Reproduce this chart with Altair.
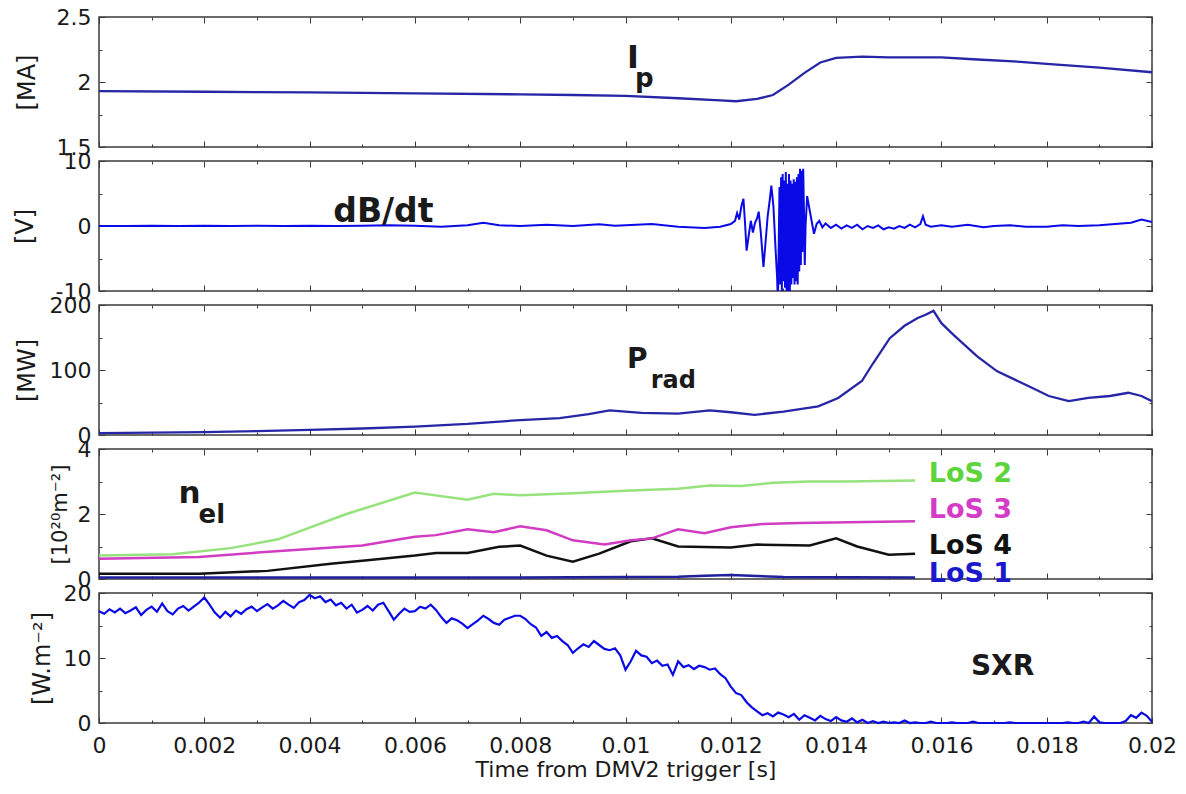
import altair as alt
import pandas as pd

# ---------------- data ----------------
TIME_TICKS = [0, 0.002, 0.004, 0.006, 0.008, 0.01, 0.012, 0.014, 0.016, 0.018, 0.02]
TIME_MINOR = [0.001, 0.003, 0.005, 0.007, 0.009, 0.011, 0.013, 0.015, 0.017, 0.019]

# plasma current [MA]
ip_t = [0, 0.002, 0.004, 0.006, 0.008, 0.009, 0.010, 0.011, 0.0118, 0.0121, 0.0125, 0.0128,
        0.0131, 0.0134, 0.0137, 0.0140, 0.0145, 0.0150, 0.0160, 0.0166, 0.0175, 0.0180, 0.0190, 0.0200]
ip_v = [1.93, 1.925, 1.92, 1.912, 1.905, 1.90, 1.893, 1.875, 1.858, 1.852, 1.87, 1.90,
        1.98, 2.07, 2.15, 2.185, 2.195, 2.19, 2.19, 2.175, 2.155, 2.14, 2.11, 2.075]

# dB/dt [V] : quiet phase, burst onset, dense burst, tail
dbdt_pre_t = [0, 0.0005, 0.001, 0.0015, 0.002, 0.0025, 0.003, 0.0035, 0.004, 0.0045,
              0.005, 0.0055, 0.006, 0.0065, 0.007, 0.0073, 0.0076, 0.008, 0.0085, 0.009,
              0.0095, 0.0098, 0.010, 0.0105, 0.011, 0.0115, 0.0118, 0.0120]
dbdt_pre_v = [0, 0, 0.05, 0, 0.05, 0, 0.05, 0, 0.05, 0,
              0.05, 0.1, 0.05, -0.1, 0.1, 0.5, 0.1, 0, 0.2, 0,
              0.25, 0.05, 0.1, 0.3, -0.1, -0.3, -0.1, 0.3]
dbdt_on_t = [0.01208, 0.01212, 0.01216, 0.0122, 0.01224, 0.01227, 0.0123, 0.01234, 0.01238, 0.01242,
             0.01246, 0.0125, 0.01253, 0.01257, 0.01262, 0.01266, 0.0127, 0.01274, 0.01277, 0.01281,
             0.01285]
dbdt_on_v = [0.8, 2.0, 1.0, 3.0, 4.2, 0.5, -3.8, -1.5, 0.8, -1.0,
             0.5, 1.2, 2.2, -1.0, -6.3, -2.5, 1.5, 4.0, 6.2, 3.0,
             -3.5]
dbdt_burst_t = [0.01288, 0.012895, 0.01291, 0.012925, 0.01294, 0.012955, 0.01297, 0.012985, 0.013, 0.013015,
                0.01303, 0.013045, 0.01306, 0.013075, 0.01309, 0.013105, 0.01312, 0.013135, 0.01315, 0.013165,
                0.01318, 0.013195, 0.01321, 0.013225, 0.01324, 0.013255, 0.01327, 0.013285, 0.0133, 0.013315,
                0.01333, 0.013345, 0.01336, 0.013375, 0.01339, 0.013405, 0.01342, 0.01345]
dbdt_burst_v = [-8.0, -12, -3, 6, -9, 7.5, -10, 8, -8.5, 7,
                -9.5, 8.3, -11, 6.5, -12, 8.0, -12, 7.0, -9, 6.5,
                -8, 7.2, -9, 6.8, -8.5, 7.5, -9, 8.0, -7, 8.8,
                -6, 8.5, -4, 8.8, 2, -6, 0, 4.6]
dbdt_tail_t = [0.01353, 0.01358, 0.01363, 0.01368, 0.01374, 0.0138, 0.0139, 0.014, 0.0141, 0.0142,
               0.0143, 0.0144, 0.0145, 0.0146, 0.0147, 0.0148, 0.0149, 0.015, 0.0151, 0.0152,
               0.0153, 0.0154, 0.0155, 0.0156, 0.01565, 0.0157, 0.0158, 0.016, 0.0162, 0.0165,
               0.0168, 0.017, 0.0173, 0.0176, 0.018, 0.0183, 0.0186, 0.019, 0.0193, 0.0196,
               0.0198, 0.02]
dbdt_tail_v = [1.0, -1.2, 0.3, 0.8, -0.2, 0.4, -0.3, 0.2, -0.4, 0.1,
               -0.3, 0.2, -0.5, 0.0, -0.3, 0.1, -0.5, -0.2, -0.4, 0.0,
               -0.3, 0.2, -0.2, 0.3, 1.5, 0.2, -0.1, 0.1, -0.1, 0.2,
               -0.2, 0.0, 0.1, -0.1, -0.1, 0.1, 0.0, 0.1, 0.3, 0.5,
               1.0, 0.6]
dbdt_t = dbdt_pre_t + dbdt_on_t + dbdt_burst_t + dbdt_tail_t
dbdt_v = dbdt_pre_v + dbdt_on_v + dbdt_burst_v + dbdt_tail_v

# radiated power [MW]
prad_t = [0, 0.001, 0.002, 0.003, 0.004, 0.005, 0.006, 0.007, 0.008, 0.00875, 0.0093, 0.0097,
          0.0103, 0.0110, 0.0116, 0.0120, 0.01245, 0.0130, 0.01366, 0.01404, 0.01449, 0.0147,
          0.01502, 0.0153, 0.01555, 0.0157, 0.01585, 0.0160, 0.01623, 0.01668, 0.01706, 0.01766,
          0.01804, 0.01842, 0.01879, 0.0192, 0.01955, 0.0198, 0.0200]
prad_v = [3, 3.5, 4.5, 6, 8, 10, 13, 17, 23, 26, 32, 38,
          34, 33, 38, 35, 31, 36, 44, 57, 83, 110,
          149, 168, 180, 185, 191, 172, 154, 121, 98, 75,
          60, 52, 57, 60, 65, 60, 52]

# line-integrated density [1e20 m^-2]
los2_t = [0, 0.0014, 0.0025, 0.0034, 0.0047, 0.006, 0.0065, 0.007, 0.0075, 0.008,
          0.009, 0.0101, 0.011, 0.0116, 0.0122, 0.0128, 0.0135, 0.0142, 0.0155]
los2_v = [0.72, 0.76, 0.95, 1.22, 2.0, 2.66, 2.55, 2.44, 2.62, 2.58,
          2.64, 2.72, 2.78, 2.88, 2.86, 2.96, 3.0, 3.0, 3.03]
los3_t = [0, 0.0019, 0.0035, 0.005, 0.006, 0.0064, 0.007, 0.0075, 0.008, 0.0085,
          0.009, 0.0096, 0.0101, 0.0105, 0.011, 0.0115, 0.012, 0.0126, 0.0133, 0.0155]
los3_v = [0.62, 0.68, 0.87, 1.03, 1.3, 1.35, 1.53, 1.44, 1.62, 1.5,
          1.19, 1.06, 1.19, 1.25, 1.53, 1.41, 1.59, 1.69, 1.72, 1.78]
los4_t = [0, 0.0019, 0.0032, 0.0044, 0.005, 0.006, 0.0064, 0.007, 0.0076, 0.008,
          0.0085, 0.009, 0.0095, 0.0101, 0.0105, 0.011, 0.012, 0.0125, 0.0135, 0.014,
          0.0144, 0.015, 0.0155]
los4_v = [0.16, 0.16, 0.25, 0.47, 0.56, 0.72, 0.8, 0.8, 0.99, 1.03,
          0.72, 0.53, 0.78, 1.16, 1.25, 1.0, 0.97, 1.06, 1.03, 1.25,
          1.0, 0.75, 0.78]
los1_t = [0, 0.004, 0.008, 0.011, 0.0115, 0.012, 0.0125, 0.013, 0.0155]
los1_v = [0.05, 0.05, 0.05, 0.07, 0.1, 0.12, 0.09, 0.06, 0.05]
LOS_NAMES = ["LoS 2", "LoS 3", "LoS 4", "LoS 1"]

# soft X-ray [W m^-2], sampled every 0.1 ms
sxr_v = [17.2, 16.8, 17.5, 17.0, 17.6, 16.9, 17.3, 17.8, 16.6, 17.4,
         17.9, 17.1, 18.4, 17.2, 16.7, 17.6, 18.0, 17.3, 17.9, 18.5,
         19.3, 18.2, 17.0, 16.2, 17.1, 16.4, 17.3, 16.8, 17.5, 17.9,
         17.2, 17.8, 18.3, 17.6, 18.1, 18.8, 18.2, 17.7, 18.6, 18.9,
         19.7, 19.2, 19.5, 18.6, 19.0, 18.1, 18.5, 17.6, 18.2, 17.0,
         17.4, 18.0, 17.3, 18.2, 18.5, 17.2, 15.9, 16.8, 17.6, 17.1,
         17.2, 17.9, 17.6, 18.2, 17.4, 16.3, 15.4, 16.1, 15.8, 15.3,
         14.6, 15.2, 15.8, 16.5, 16.0, 15.4, 15.1, 15.9, 16.2, 16.5,
         16.5, 16.0, 15.2, 14.7, 13.4, 14.0, 13.1, 13.4, 12.6, 12.0,
         10.8, 11.5, 12.1, 11.7, 12.6, 12.0, 11.4, 11.2, 11.5, 10.4,
         8.2, 9.5, 11.1, 10.4, 10.2, 9.2, 9.6, 8.8, 9.0, 7.4,
         9.5, 8.6, 8.9, 8.3, 8.8, 8.6, 8.2, 8.4, 7.5, 6.9,
         5.6, 4.6, 4.3, 3.2, 2.4, 1.8, 1.2, 1.5, 1.0, 1.6,
         1.3, 0.9, 1.4, 0.5, 1.2, 0.8, 0.4, 1.1, 0.6, 0.3,
         0.9, 0.4, 0.2, 0.7, 0.1, 0.5, 0.0, 0.3, 0.0, 0.2,
         0.0, 0.1, 0.0, 0.4, 0.0, 0.1, 0.0, 0.0, 0.2, 0.0,
         0.0, 0.0, 0.1, 0.0, 0.0, 0.0, 0.2, 0.0, 0.0, 0.0,
         0.0, 0.0, 0.0, 0.1, 0.0, 0.0, 0.0, 0.0, 0.0, 0.0,
         0.0, 0.0, 0.0, 0.0, 0.1, 0.0, 0.0, 0.2, 0.0, 1.0,
         0.1, 0.0, 0.0, 0.0, 0.0, 0.3, 1.2, 0.8, 1.6, 1.1,
         0.2]
sxr_t = [round(i * 0.0001, 4) for i in range(len(sxr_v))]

# ---------------- styling ----------------
FONT = "DejaVu Sans"
W, H = 1053, 130
FRAME = "#3a3a3a"
TXT = "#1a1a1a"
XS = alt.Scale(domain=[0, 0.02], nice=False, zero=False)
NUM = "datum.value + ''"


def ys(dom):
    return alt.Scale(domain=dom, nice=False, zero=False)


def axis_layers(ydom, ymaj, ymin, ytitle, title_x, title_size, bottom):
    anchor = pd.DataFrame({"t": [0.0], "v": [ydom[0]]})
    base = alt.Chart(anchor).mark_point(opacity=0, size=1)
    layers = []
    if bottom:
        xax = alt.Axis(orient="bottom", values=TIME_TICKS, labelExpr=NUM, ticks=False, tickSize=0,
                       domain=False, grid=False, labelFont=FONT, labelFontSize=22, labelColor=TXT,
                       labelPadding=12, labelFlush=False, labelOverlap=False,
                       titleFont=FONT, titleFontSize=22, titleFontWeight="normal",
                       titleColor=TXT, titlePadding=3)
        xenc = alt.X("t:Q", scale=XS, axis=xax, title="Time from DMV2 trigger [s]")
    else:
        xenc = alt.X("t:Q", scale=XS, axis=None)
    yax = alt.Axis(orient="left", values=ymaj, labelExpr=NUM, ticks=False, tickSize=0,
                   domain=False, grid=False, labelFont=FONT, labelFontSize=22, labelColor=TXT,
                   labelPadding=8, labelFlush=False, labelOverlap=False,
                   titleFont=FONT, titleFontSize=title_size, titleFontWeight="normal",
                   titleColor=TXT, titleX=title_x, titleBaseline="bottom")
    layers.append(base.encode(x=xenc, y=alt.Y("v:Q", scale=ys(ydom), axis=yax, title=ytitle)))
    for xo, yo, xv, yv, sz in [("bottom", "left", TIME_TICKS, ymaj, 6),
                               ("top", "right", TIME_TICKS, ymaj, 6),
                               ("bottom", "left", TIME_MINOR, ymin, 3),
                               ("top", "right", TIME_MINOR, ymin, 3)]:
        xa = alt.Axis(orient=xo, values=xv, offset=-sz, tickSize=sz, tickColor=FRAME,
                      tickWidth=1, labels=False, domain=False, grid=False, minExtent=0)
        ya = alt.Axis(orient=yo, values=yv, offset=-sz, tickSize=sz, tickColor=FRAME,
                      tickWidth=1, labels=False, domain=False, grid=False, minExtent=0)
        layers.append(base.encode(x=alt.X("t:Q", scale=XS, axis=xa, title=None),
                                  y=alt.Y("v:Q", scale=ys(ydom), axis=ya, title=None)))
    return layers


def line(ts, vs, ydom, color, width=2.0, clip=False):
    df = pd.DataFrame({"t": ts, "v": vs})
    return alt.Chart(df).mark_line(color=color, strokeWidth=width, clip=clip).encode(
        x=alt.X("t:Q", scale=XS, axis=None),
        y=alt.Y("v:Q", scale=ys(ydom), axis=None))


def label(txt, t, v, ydom, size, color=TXT):
    df = pd.DataFrame({"t": [t], "v": [v], "s": [txt]})
    return alt.Chart(df).mark_text(align="left", baseline="alphabetic", font=FONT,
                                   fontSize=size, fontWeight="bold", color=color).encode(
        x=alt.X("t:Q", scale=XS, axis=None),
        y=alt.Y("v:Q", scale=ys(ydom), axis=None),
        text="s:N")


def panel(layers):
    return alt.layer(*layers).properties(width=W, height=H).resolve_axis(
        x="independent", y="independent")


# panel 1: Ip
d1 = [1.5, 2.5]
p1 = panel(axis_layers(d1, [1.5, 2, 2.5], [1.75, 2.25], "[MA]", -60, 24, False) + [
    line(ip_t, ip_v, d1, "#2626a6", 2.3),
    label("I", 0.01003, 2.11, d1, 32),
    label("p", 0.01018, 1.965, d1, 26),
])

# panel 2: dB/dt
d2 = [-10, 10]
p2 = panel(axis_layers(d2, [-10, 0, 10], [-5, 5], "[V]", -62, 24, False) + [
    line(dbdt_t, dbdt_v, d2, "#0a0ae6", 2.0, clip=True),
    label("dB/dt", 0.00445, 0.6, d2, 33),
])

# panel 3: Prad
d3 = [0, 200]
p3 = panel(axis_layers(d3, [0, 100, 200], [50, 150], "[MW]", -60, 24, False) + [
    line(prad_t, prad_v, d3, "#2626a6", 2.3),
    label("P", 0.01003, 103, d3, 28),
    label("rad", 0.01048, 72, d3, 24),
])

# panel 4: nel
d4 = [0, 4]
p4 = panel(axis_layers(d4, [0, 2, 4], [1, 3], "[10²⁰m⁻²]", -29, 21, False) + [
    line(los1_t, los1_v, d4, "#20209a", 2.5),
    line(los4_t, los4_v, d4, "#111111", 2.5),
    line(los3_t, los3_v, d4, "#d23cc2", 2.5),
    line(los2_t, los2_v, d4, "#96e27c", 2.5),
    label("n", 0.00151, 2.34, d4, 31),
    label("el", 0.00189, 1.72, d4, 26),
    label(LOS_NAMES[0], 0.01576, 2.97, d4, 27, "#5cd43a"),
    label(LOS_NAMES[1], 0.01576, 1.875, d4, 27, "#d43cc8"),
    label(LOS_NAMES[2], 0.01576, 0.78, d4, 27, "#111111"),
    label(LOS_NAMES[3], 0.01576, -0.09, d4, 27, "#1a1acc"),
])

# panel 5: SXR
d5 = [0, 20]
p5 = panel(axis_layers(d5, [0, 10, 20], [5, 15], "[W.m⁻²]", -45, 24, True) + [
    line(sxr_t, sxr_v, d5, "#0a0ae6", 2.2),
    label("SXR", 0.01656, 7.4, d5, 28),
])

chart = alt.vconcat(p1, p2, p3, p4, p5, spacing=14, bounds="flush").properties(
    padding={"left": 4, "top": -3, "right": 0, "bottom": 0}
).configure_view(stroke=FRAME, strokeWidth=1.5)

chart.save("out.html", embed_options={"renderer": "svg", "actions": False})
